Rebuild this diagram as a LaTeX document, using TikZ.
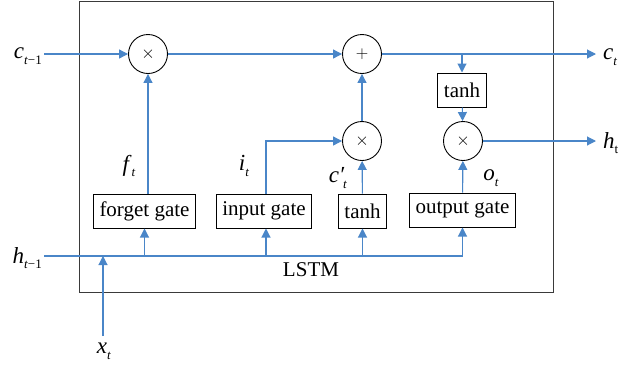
\documentclass[tikz,border=0pt]{standalone}
\usepackage{fontspec}
\setmainfont{Liberation Serif}
\usetikzlibrary{arrows.meta}
\definecolor{flow}{HTML}{4A86C8}
\definecolor{frame}{HTML}{3A3A3A}
% italic variable with a lowered small subscript
\newcommand{\var}[2]{\textit{#1}\raisebox{-0.55ex}{\fontsize{13}{13}\selectfont #2}}
\begin{document}
\begin{tikzpicture}[x=1pt,y=-1pt,
  flowline/.style={draw=flow, line width=1.1pt},
  arr/.style={flowline, -{Triangle[length=9pt,width=9pt]}},
  op/.style={circle, draw=black, line width=0.9pt, minimum size=39pt, inner sep=0pt,
    font=\fontsize{18}{18}\selectfont},
  gate/.style={draw=black, line width=1pt, inner xsep=6pt, inner ysep=0pt,
    minimum height=34pt, font=\fontsize{21}{21}\selectfont},
  lbl/.style={font=\fontsize{23}{23}\selectfont, inner sep=0pt}]
\useasboundingbox (0,0) rectangle (638,368);

% cell frame
\node[draw=frame, line width=1.4pt, minimum width=474pt, minimum height=291pt,
  anchor=north west, inner sep=0pt] (cell) at (79,1) {};
\node[inner sep=0pt, font=\fontsize{21}{21}\selectfont] (lstm) at (311,270) {LSTM};

% pointwise operations
\node[op] (m1)  at (148,54)  {$\times$};
\node[op] (add) at (362,54)  {$+$};
\node[op] (m2)  at (362,141) {$\times$};
\node[op] (m3)  at (463,141) {$\times$};

% gates and activations
\node[gate] (th1) at (462,90)    {tanh};
\node[gate] (fg)  at (144.5,211) {forget gate};
\node[gate] (ig)  at (264,211)   {input gate};
\node[gate] (tg)  at (362.5,211) {tanh};
\node[gate] (og)  at (462.5,210) {output gate};

% free ends
\coordinate (cin)  at (44,54);
\coordinate (cout) at (596,54);
\coordinate (hout) at (596,141);
\coordinate (hin)  at (44,256);
\coordinate (xin)  at (103,336);

% cell state path
\draw[arr] (cin) -- (m1);
\draw[arr] (m1) -- (add);
\draw[arr] (add) -- (cout);
\draw[arr] (th1 |- add) -- (th1.north);
\draw[arr] (th1) -- (m3);
\draw[arr] (m3) -- (hout);
\draw[arr] (m2) -- (add);

% gate outputs
\draw[arr] (m1 |- fg.north) -- (m1);
\draw[arr] ([xshift=2pt]ig.north) |- (m2);
\draw[arr] (tg) -- (m2);
\draw[arr] (og) -- (m3);

% hidden state and input bus
\draw[arr] (hin) -| (og.south);
\draw[arr] (fg |- hin) -- (fg.south);
\draw[arr] ([xshift=2pt]ig.south |- hin) -- ([xshift=2pt]ig.south);
\draw[arr] (tg |- hin) -- (tg.south);
\draw[arr] (xin) -- (xin |- hin);

% labels
\node[lbl, anchor=east] (lc1) at (42,56)  {\var{c}{\textit{t}−1}};
\node[lbl, anchor=east] (lh1) at (42,258) {\var{h}{\textit{t}−1}};
\node[lbl, anchor=west] (lc)  at (603,57)  {\var{c}{\textit{t}}};
\node[lbl, anchor=west] (lh)  at (603,143) {\var{h}{t}};
\node[lbl] (lx)  at (104,351) {\var{x}{\textit{t}}};
\node[lbl] (lf)  at (129,166) {\var{f}{\textit{t}}};
\node[lbl] (li)  at (244,166) {\var{i}{\textit{t}}};
\node[lbl] (lcp) at (338,178) {\var{c′}{\kern-0.1em\textit{t}}};
\node[lbl] (lo)  at (491,178) {\var{o}{\textit{t}}};
\end{tikzpicture}
\end{document}
